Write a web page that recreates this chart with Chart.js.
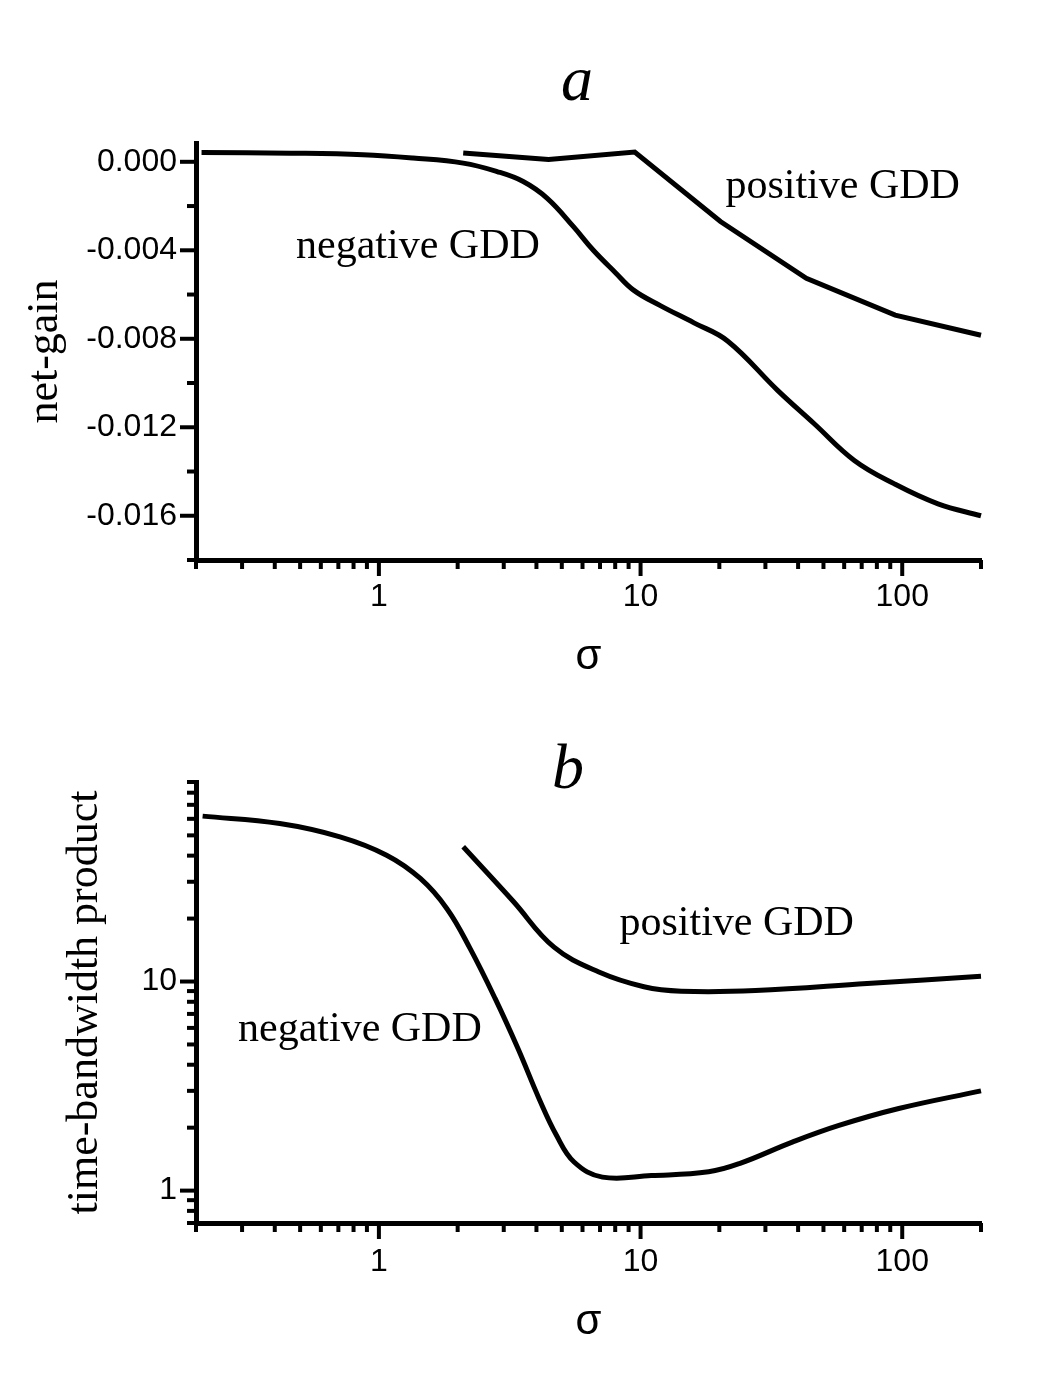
<!DOCTYPE html>
<html>
<head>
<meta charset="utf-8">
<script src="https://cdn.jsdelivr.net/npm/chart.js@4.4.1/dist/chart.umd.min.js"></script>
<style>
  body { margin: 0; background: #fff; }
  #wrap { position: relative; width: 1050px; height: 1377px; background: #fff; }
  canvas { position: absolute; left: 0; }
</style>
</head>
<body>
<div id="wrap">
  <canvas id="chartA" width="1050" height="690" style="top:0px"></canvas>
  <canvas id="chartB" width="1050" height="687" style="top:690px"></canvas>
</div>
<script>
// sigma axis (same for both panels)
const xTicks = [0.2, 0.3, 0.4, 0.5, 0.6, 0.7, 0.8, 0.9, 1, 2, 3, 4, 5, 6, 7, 8, 9,
                10, 20, 30, 40, 50, 60, 70, 80, 90, 100, 200];
const xLabels = [1, 10, 100];

// panel a: net-gain
const yTicksA = [0, -0.002, -0.004, -0.006, -0.008, -0.010, -0.012, -0.014, -0.016, -0.018];
const yLabelsA = [0, -0.004, -0.008, -0.012, -0.016];

const negSigmaA = [0.21, 0.46, 0.87, 1.35, 2.1, 2.83, 3.56, 4.4, 5.54, 6.6, 8.0, 9.4, 11.9,
                   16, 21.5, 33.4, 46.1, 65.6, 93.4, 137, 200];
const negGainA = [0.00042, 0.00039, 0.00032, 0.00017, -0.00006, -0.00044, -0.00089, -0.00165,
                  -0.00293, -0.0040, -0.0050, -0.0058, -0.0065, -0.00728, -0.0081,
                  -0.01033, -0.01184, -0.0135, -0.01456, -0.01546, -0.0160];

const posSigmaA = [2.1, 4.45, 9.5, 20.2, 43, 94, 200];
const posGainA = [0.00040, 0.00010, 0.00044, -0.00270, -0.00527, -0.00693, -0.00784];

// panel b: time-bandwidth product
const yTicksB = [0.7, 0.8, 0.9, 1, 2, 3, 4, 5, 6, 7, 8, 9, 10, 20, 30, 40, 50, 60, 70, 80, 90];
const yLabelsB = [1, 10];

const negSigmaB = [0.212, 0.418, 0.71, 1.07, 1.44, 1.82, 2.23, 2.78, 3.4, 4.09, 4.77, 5.57,
                   7.15, 11.0, 18.2, 24, 38.2, 57.3, 97, 200];
const negTbpB = [61.8, 57.0, 49.2, 40.2, 31.1, 22.3, 14.4, 8.3, 4.78, 2.76, 1.84, 1.37,
                 1.16, 1.18, 1.23, 1.35, 1.71, 2.05, 2.47, 3.0];

const posSigmaB = [2.1, 3.26, 4.67, 6.93, 10.3, 14.3, 27.5, 73.4, 200];
const posTbpB = [44.1, 24.2, 14.6, 11.1, 9.44, 8.99, 9.05, 9.78, 10.6];

const tickFont = { family: 'Liberation Sans', size: 32 };
const serif = 'Liberation Serif';

// short and long tick marks drawn outside the axes
const axisTicks = {
  id: 'axisTicks',
  afterDraw(chart, args, opts) {
    const ctx = chart.ctx;
    const x = chart.scales.x, y = chart.scales.y;
    ctx.save();
    ctx.strokeStyle = '#000';
    ctx.lineWidth = 4;
    x.ticks.forEach(t => {
      const px = x.getPixelForValue(t.value);
      const len = opts.xMajor.includes(t.value) ? 16 : 9;
      ctx.beginPath();
      ctx.moveTo(px, x.top);
      ctx.lineTo(px, x.top + len);
      ctx.stroke();
    });
    y.ticks.forEach(t => {
      const py = y.getPixelForValue(t.value);
      const len = opts.yMajor.includes(t.value) ? 16 : 9;
      ctx.beginPath();
      ctx.moveTo(y.right, py);
      ctx.lineTo(y.right - len, py);
      ctx.stroke();
    });
    ctx.restore();
  }
};

// curve names and the panel letter
const textLabels = {
  id: 'textLabels',
  afterDraw(chart, args, opts) {
    const ctx = chart.ctx;
    ctx.save();
    ctx.fillStyle = '#000';
    ctx.textAlign = 'center';
    ctx.textBaseline = 'alphabetic';
    ctx.font = '42px "' + serif + '"';
    opts.notes.forEach(n => {
      ctx.fillText(n.text, chart.scales.x.getPixelForValue(n.x), chart.scales.y.getPixelForValue(n.y));
    });
    ctx.font = 'italic 64px "' + serif + '"';
    ctx.fillText(opts.panel.text, opts.panel.x, opts.panel.y);
    ctx.restore();
  }
};

function points(xs, ys) {
  return xs.map((x, i) => ({ x: x, y: ys[i] }));
}

function curve(data, smooth) {
  return {
    data: data,
    borderColor: '#000',
    borderWidth: 5,
    pointRadius: 0,
    fill: false,
    clip: 5,
    tension: smooth ? 0.4 : 0
  };
}

function xScale(axisHeight, labelPad, titlePad) {
  return {
    type: 'logarithmic',
    min: 0.2,
    max: 200,
    bounds: 'data',
    afterBuildTicks: s => { s.ticks = xTicks.map(v => ({ value: v })); },
    afterFit: s => { s.height = axisHeight; },
    grid: { display: false, drawTicks: false },
    border: { display: true, color: '#000', width: 5 },
    ticks: {
      autoSkip: false, maxRotation: 0, padding: labelPad, color: '#000', font: tickFont,
      callback: v => xLabels.includes(v) ? String(v) : ''
    },
    title: {
      display: true, text: 'σ', color: '#000',
      font: { family: 'Liberation Sans', size: 42 },
      padding: { top: 0, bottom: titlePad }
    }
  };
}

function renderA() {
  const ctx = document.getElementById('chartA').getContext('2d');
  new Chart(ctx, {
    type: 'line',
    data: {
      datasets: [
        curve(points(negSigmaA, negGainA), true),
        curve(points(posSigmaA, posGainA), false)
      ]
    },
    options: {
      responsive: false,
      animation: false,
      layout: { padding: { top: 143, right: 69, bottom: 0, left: 0 } },
      scales: {
        x: xScale(130, 18, 7),
        y: {
          type: 'linear',
          min: -0.018,
          max: 0.00085,
          bounds: 'data',
          afterBuildTicks: s => { s.ticks = yTicksA.map(v => ({ value: v })); },
          afterFit: s => { s.width = 196; },
          grid: { display: false, drawTicks: false },
          border: { display: true, color: '#000', width: 5 },
          ticks: {
            padding: 19, color: '#000', font: tickFont,
            callback: v => yLabelsA.includes(v) ? v.toFixed(3) : ''
          },
          title: {
            display: true, text: 'net-gain', color: '#000',
            font: { family: serif, size: 44 },
            padding: { top: 19, bottom: 0 }
          }
        }
      },
      plugins: {
        legend: { display: false },
        tooltip: { enabled: false },
        axisTicks: { xMajor: xLabels, yMajor: yLabelsA },
        textLabels: {
          notes: [
            { text: 'negative GDD', x: 1.41, y: -0.00435 },
            { text: 'positive GDD', x: 59.2, y: -0.00163 }
          ],
          panel: { text: 'a', x: 577, y: 100 }
        }
      }
    },
    plugins: [axisTicks, textLabels]
  });
}

function renderB() {
  const ctx = document.getElementById('chartB').getContext('2d');
  new Chart(ctx, {
    type: 'line',
    data: {
      datasets: [
        curve(points(negSigmaB, negTbpB), true),
        curve(points(posSigmaB, posTbpB), true)
      ]
    },
    options: {
      responsive: false,
      animation: false,
      layout: { padding: { top: 92, right: 69, bottom: 0, left: 0 } },
      scales: {
        x: xScale(154, 20, 29),
        y: {
          type: 'logarithmic',
          min: 0.7,
          max: 90,
          bounds: 'data',
          afterBuildTicks: s => { s.ticks = yTicksB.map(v => ({ value: v })); },
          afterFit: s => { s.width = 196; },
          grid: { display: false, drawTicks: false },
          border: { display: true, color: '#000', width: 5 },
          ticks: {
            autoSkip: false, padding: 19, color: '#000', font: tickFont,
            callback: v => yLabelsB.includes(v) ? String(v) : ''
          },
          title: {
            display: true, text: 'time-bandwidth product', color: '#000',
            font: { family: serif, size: 44 },
            padding: { top: 59, bottom: 0 }
          }
        }
      },
      plugins: {
        legend: { display: false },
        tooltip: { enabled: false },
        axisTicks: { xMajor: xLabels, yMajor: yLabelsB },
        textLabels: {
          notes: [
            { text: 'negative GDD', x: 0.846, y: 5.22 },
            { text: 'positive GDD', x: 23.3, y: 16.65 }
          ],
          panel: { text: 'b', x: 568, y: 98 }
        }
      }
    },
    plugins: [axisTicks, textLabels]
  });
}

renderA();
renderB();
</script>
</body>
</html>
